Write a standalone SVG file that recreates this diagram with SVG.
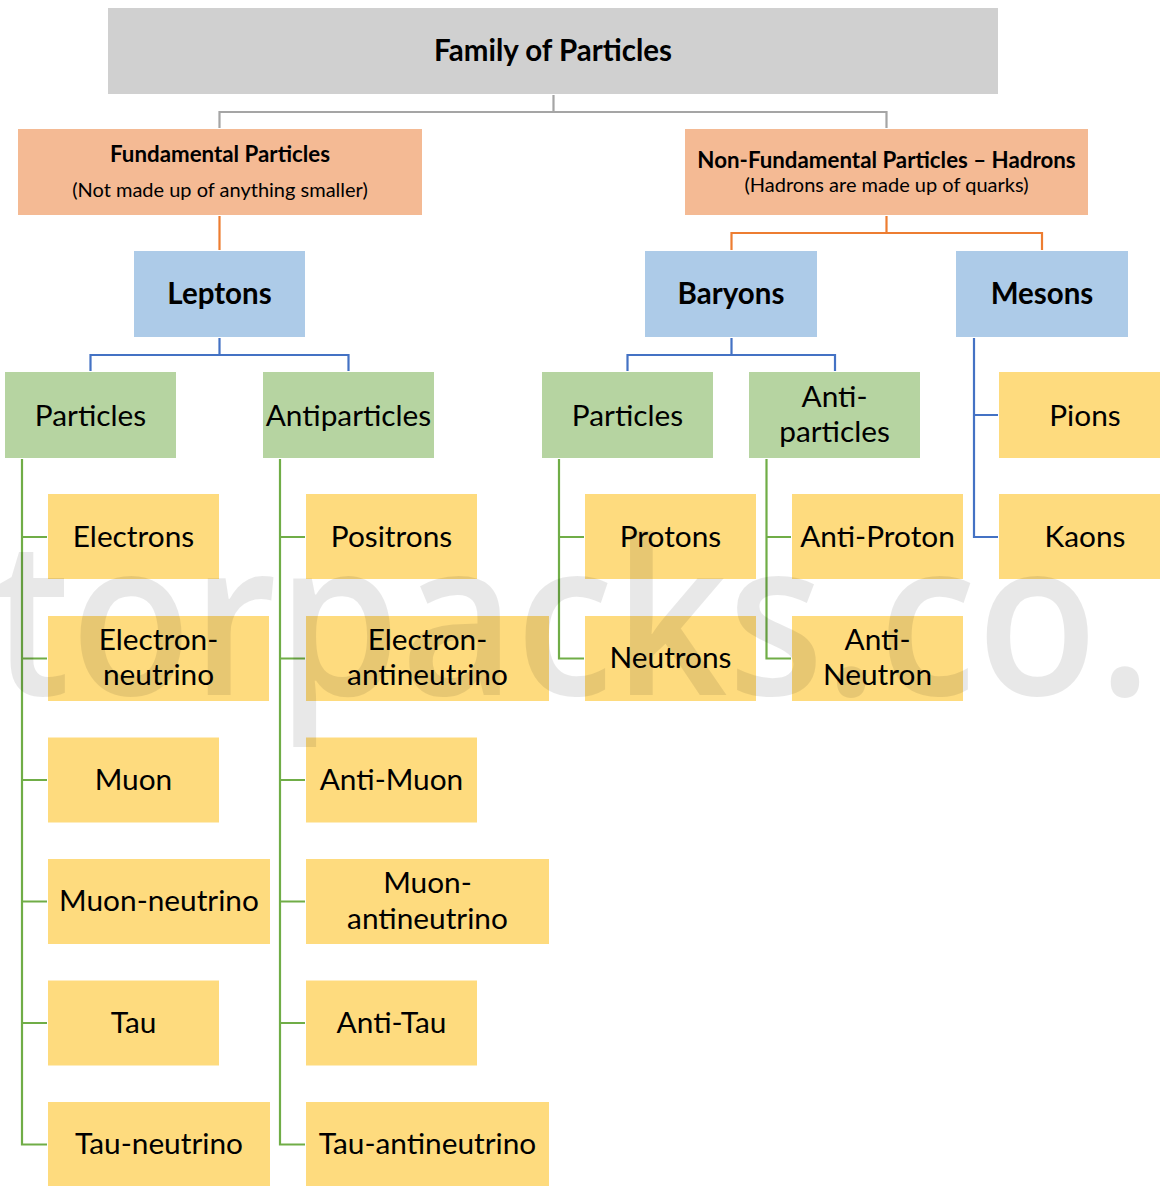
<svg xmlns="http://www.w3.org/2000/svg" width="1160" height="1186" viewBox="0 0 1160 1186">
<style>
text{font-family:Lato,"Open Sans","Liberation Sans",sans-serif;fill:#000;text-anchor:middle}
.t{font-size:29.5px;font-weight:700}
.h{font-size:22.3px;font-weight:700}
.s{font-size:20px}
.b{font-size:29.5px;font-weight:700}
.g{font-size:29.8px}
.y{font-size:29.8px}
.gray{fill:#D0D0D0}
.peach{fill:#F4BA94}
.blue{fill:#ADCBE8}
.green{fill:#B6D4A1}
.yel{fill:#FEDB7E}
rect{stroke:#fff;stroke-width:1}
.c{fill:none;stroke-width:2.2}
.cg{stroke:#A5A5A5}
.co{stroke:#ED7D31}
.cb{stroke:#4472C4}
.cn{stroke:#70AD47}
.wm{font-family:"Open Sans",Lato,sans-serif;font-size:215px;font-weight:600;fill:#000;fill-opacity:0.09;text-anchor:start}
</style>
<g id="connectors">
<path class="c cg" d="M553.5 94V112M219.5 112H886.5M219.5 111V129M886.5 111V129"/>
<path class="c co" d="M219.5 215V251M886.5 215V233M731.5 233H1042M731.5 232V251M1042 232V251"/>
<path class="c cb" d="M219.5 337V355M90.5 355H348.5M90.5 354V372M348.5 354V372"/>
<path class="c cb" d="M731.5 337V355M627.5 355H835M627.5 354V372M835 354V372"/>
<path class="c cb" d="M974 337V537H999M974 415H999"/>
<path class="c cn" d="M22 458V1144.5H48M22 537H48M22 658.5H48M22 780H48M22 901.5H48M22 1023H48"/>
<path class="c cn" d="M280 458V1144.5H306M280 537H306M280 658.5H306M280 780H306M280 901.5H306M280 1023H306"/>
<path class="c cn" d="M559 458V658.5H585M559 537H585"/>
<path class="c cn" d="M766.5 458V658.5H792M766.5 537H792"/>
</g>
<g id="n-family"><rect class="gray" x="107.5" y="7.5" width="891" height="87"/><text class="t" x="553" y="61">Family of Particles</text></g>
<g id="n-fundamental"><rect class="peach" x="17.5" y="128.5" width="405" height="87"/><text class="h" x="220" y="162">Fundamental Particles</text><text class="s" x="220" y="196.5">(Not made up of anything smaller)</text></g>
<g id="n-hadrons"><rect class="peach" x="684.5" y="128.5" width="404" height="87"/><text class="h" x="886.5" y="168">Non-Fundamental Particles – Hadrons</text><text class="s" x="886.5" y="192">(Hadrons are made up of quarks)</text></g>
<g id="n-leptons"><rect class="blue" x="133.5" y="250.5" width="172" height="87"/><text class="b" x="219.5" y="303.5">Leptons</text></g>
<g id="n-baryons"><rect class="blue" x="644.5" y="250.5" width="173" height="87"/><text class="b" x="731" y="303.5">Baryons</text></g>
<g id="n-mesons"><rect class="blue" x="955.5" y="250.5" width="173" height="87"/><text class="b" x="1042" y="303.5">Mesons</text></g>
<g id="n-lep-particles"><rect class="green" x="4.5" y="371.5" width="172" height="87"/><text class="g" x="90.5" y="425.5">Particles</text></g>
<g id="n-lep-antiparticles"><rect class="green" x="262.5" y="371.5" width="172" height="87"/><text class="g" x="348.5" y="425.5">Antiparticles</text></g>
<g id="n-bar-particles"><rect class="green" x="541.5" y="371.5" width="172" height="87"/><text class="g" x="627.5" y="425.5">Particles</text></g>
<g id="n-bar-antiparticles"><rect class="green" x="748.5" y="371.5" width="172" height="87"/><text class="g" x="834.5" y="407">Anti-</text><text class="g" x="834.5" y="442">particles</text></g>
<g id="n-pions"><rect class="yel" x="998.5" y="371.5" width="172" height="87"/><text class="y" x="1085" y="425.5">Pions</text></g>
<g id="n-kaons"><rect class="yel" x="998.5" y="493.5" width="172" height="86"/><text class="y" x="1085" y="546.5">Kaons</text></g>
<g id="n-electrons"><rect class="yel" x="47.5" y="493.5" width="172" height="86"/><text class="y" x="133.5" y="546.5">Electrons</text></g>
<g id="n-electron-neutrino"><rect class="yel" x="47.5" y="615.5" width="222" height="86"/><text class="y" x="158.5" y="649.5">Electron-</text><text class="y" x="158.5" y="685">neutrino</text></g>
<g id="n-muon"><rect class="yel" x="47.5" y="737" width="172" height="86"/><text class="y" x="133.5" y="789.5">Muon</text></g>
<g id="n-muon-neutrino"><rect class="yel" x="47.5" y="858.5" width="223" height="86"/><text class="y" x="159" y="911">Muon-neutrino</text></g>
<g id="n-tau"><rect class="yel" x="47.5" y="980" width="172" height="86"/><text class="y" x="133.5" y="1032.5">Tau</text></g>
<g id="n-tau-neutrino"><rect class="yel" x="47.5" y="1101.5" width="223" height="86"/><text class="y" x="159" y="1154">Tau-neutrino</text></g>
<g id="n-positrons"><rect class="yel" x="305.5" y="493.5" width="172" height="86"/><text class="y" x="391.5" y="546.5">Positrons</text></g>
<g id="n-electron-antineutrino"><rect class="yel" x="305.5" y="615.5" width="244" height="86"/><text class="y" x="427.5" y="649.5">Electron-</text><text class="y" x="427.5" y="685">antineutrino</text></g>
<g id="n-anti-muon"><rect class="yel" x="305.5" y="737" width="172" height="86"/><text class="y" x="391.5" y="789.5">Anti-Muon</text></g>
<g id="n-muon-antineutrino"><rect class="yel" x="305.5" y="858.5" width="244" height="86"/><text class="y" x="427.5" y="893">Muon-</text><text class="y" x="427.5" y="928.5">antineutrino</text></g>
<g id="n-anti-tau"><rect class="yel" x="305.5" y="980" width="172" height="86"/><text class="y" x="391.5" y="1032.5">Anti-Tau</text></g>
<g id="n-tau-antineutrino"><rect class="yel" x="305.5" y="1101.5" width="244" height="86"/><text class="y" x="427.5" y="1154">Tau-antineutrino</text></g>
<g id="n-protons"><rect class="yel" x="584.5" y="493.5" width="172" height="86"/><text class="y" x="670.5" y="546.5">Protons</text></g>
<g id="n-neutrons"><rect class="yel" x="584.5" y="615.5" width="172" height="86"/><text class="y" x="670.5" y="668">Neutrons</text></g>
<g id="n-anti-proton"><rect class="yel" x="791.5" y="493.5" width="172" height="86"/><text class="y" x="877.5" y="546.5">Anti-Proton</text></g>
<g id="n-anti-neutron"><rect class="yel" x="791.5" y="615.5" width="172" height="86"/><text class="y" x="877.5" y="649.5">Anti-</text><text class="y" x="877.5" y="685">Neutron</text></g>
<text class="wm" x="-8" y="695" textLength="1160" lengthAdjust="spacingAndGlyphs">torpacks.co.</text>
</svg>
